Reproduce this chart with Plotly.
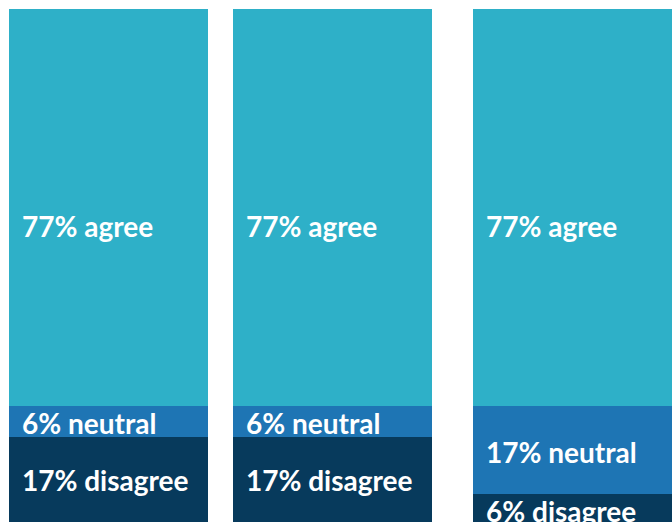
import plotly.graph_objects as go

# ---- data ----
groups = ["Group A", "Group B", "Group C"]
agree = [77, 77, 77]
neutral = [6, 6, 17]
disagree = [17, 17, 6]
series_names = ["disagree", "neutral", "agree"]

# ---- layout / style ----
bar_lefts = [9, 233, 473]
bar_widths = [199, 199, 199]
bar_centers = [l + w / 2 for l, w in zip(bar_lefts, bar_widths)]
colors = {"agree": "#2EB0C8", "neutral": "#1E75B4", "disagree": "#073A5C"}
font_family = "Lato, 'Open Sans', sans-serif"

fig = go.Figure()
series = {"disagree": disagree, "neutral": neutral, "agree": agree}
bases = {
    "disagree": [0, 0, 0],
    "neutral": disagree,
    "agree": [d + n for d, n in zip(disagree, neutral)],
}
for name in series_names:
    fig.add_trace(go.Bar(
        x=bar_centers, y=series[name], base=bases[name], width=bar_widths,
        marker=dict(color=colors[name], line=dict(width=0)),
        name=name, hoverinfo="skip", showlegend=False,
    ))

annotations = []
for i in range(len(groups)):
    left = bar_lefts[i]
    for name in series_names:
        v = series[name][i]
        mid = bases[name][i] + v / 2
        if name == "agree":
            yshift = -18
        elif name == "disagree" and v > 10:
            yshift = 1
        else:
            yshift = -2
        annotations.append(dict(
            x=left, y=mid, xref="x", yref="y", xanchor="left", yanchor="middle",
            xshift=11, yshift=yshift, showarrow=False,
            text=f"<b>{v}% {name}</b>",
            font=dict(family=font_family, size=28, color="white"),
        ))

fig.update_layout(
    width=672, height=522,
    margin=dict(l=0, r=0, t=9, b=0),
    paper_bgcolor="white", plot_bgcolor="white",
    barmode="overlay", bargap=0,
    xaxis=dict(range=[0, 672], visible=False, fixedrange=True),
    yaxis=dict(range=[0.5, 100], visible=False, fixedrange=True),
    annotations=annotations,
)

fig.write_html(
    "out.html",
    config={"displayModeBar": False, "staticPlot": True},
    post_script="document.body.style.margin='0';document.body.style.overflow='hidden';",
)
